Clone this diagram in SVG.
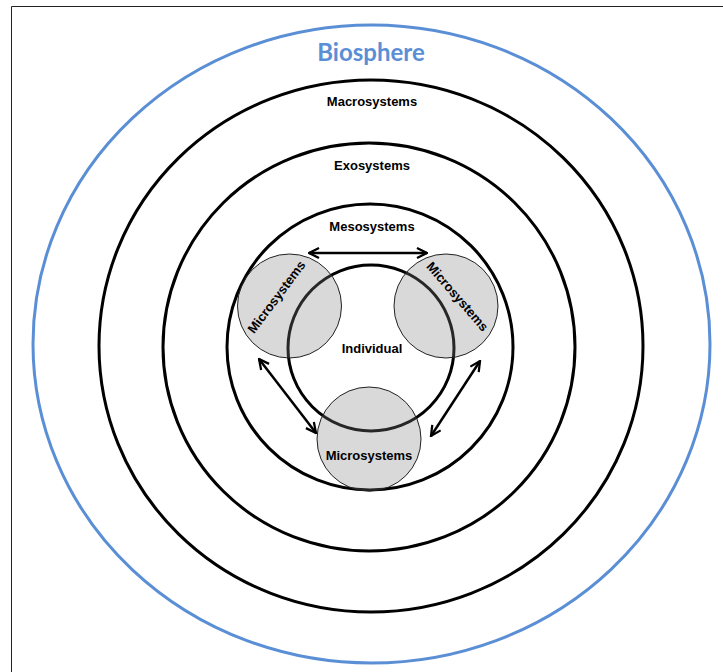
<svg xmlns="http://www.w3.org/2000/svg" width="723" height="672" viewBox="0 0 723 672">
<defs>
<style>
.ring{fill:none;stroke:#000;stroke-width:3}
.lbl{font-family:"Liberation Sans",Arial,sans-serif;font-weight:bold;font-size:13px;fill:#000;text-anchor:middle;dominant-baseline:central}
.micro{fill:#808080;fill-opacity:0.3;stroke:#222;stroke-width:1}
.arr{fill:none;stroke:#000;stroke-width:2.5;marker-start:url(#ah);marker-end:url(#ah)}
</style>
<marker id="ah" viewBox="0 0 10 10" refX="9" refY="5" markerWidth="5" markerHeight="5" orient="auto-start-reverse" markerUnits="strokeWidth">
<path d="M1,1 L9,5 L1,9" fill="none" stroke="#000" stroke-width="1.8"/>
</marker>
</defs>
<rect width="723" height="672" fill="#fff"/>
<path d="M11.5,672 V6.5 H723" fill="none" stroke="#222" stroke-width="1"/>
<g id="biosphere">
<ellipse cx="371.5" cy="344" rx="338.5" ry="319" fill="none" stroke="#5b8fd5" stroke-width="3"/>
<text x="371" y="51" font-family="Lato,'Open Sans',sans-serif" font-weight="bold" font-size="24" fill="#5b8fd5" text-anchor="middle" dominant-baseline="central">Biosphere</text>
</g>
<g id="macrosystems">
<ellipse class="ring" cx="371" cy="346" rx="272" ry="266"/>
<text class="lbl" x="372" y="101">Macrosystems</text>
</g>
<g id="exosystems">
<ellipse class="ring" cx="369" cy="347" rx="206" ry="204"/>
<text class="lbl" x="372" y="165">Exosystems</text>
</g>
<g id="mesosystems">
<circle class="ring" cx="370" cy="347" r="143"/>
<text class="lbl" x="372" y="226">Mesosystems</text>
</g>
<g id="individual">
<circle class="ring" cx="371" cy="348" r="83"/>
<text class="lbl" x="372" y="348">Individual</text>
</g>
<g id="micro-left">
<circle class="micro" cx="289.5" cy="306" r="52"/>
<text class="lbl" transform="translate(276.5,297) rotate(-53)">Microsystems</text>
</g>
<g id="micro-right">
<circle class="micro" cx="446" cy="306" r="52"/>
<text class="lbl" transform="translate(457.5,296.5) rotate(49)">Microsystems</text>
</g>
<g id="micro-bottom">
<circle class="micro" cx="369" cy="439" r="52"/>
<text class="lbl" x="369" y="455">Microsystems</text>
</g>
<g id="connectors">
<line class="arr" x1="309" y1="253" x2="427" y2="253"/>
<line class="arr" x1="259" y1="359" x2="316" y2="433"/>
<line class="arr" x1="480" y1="361" x2="431" y2="436"/>
</g>
</svg>
